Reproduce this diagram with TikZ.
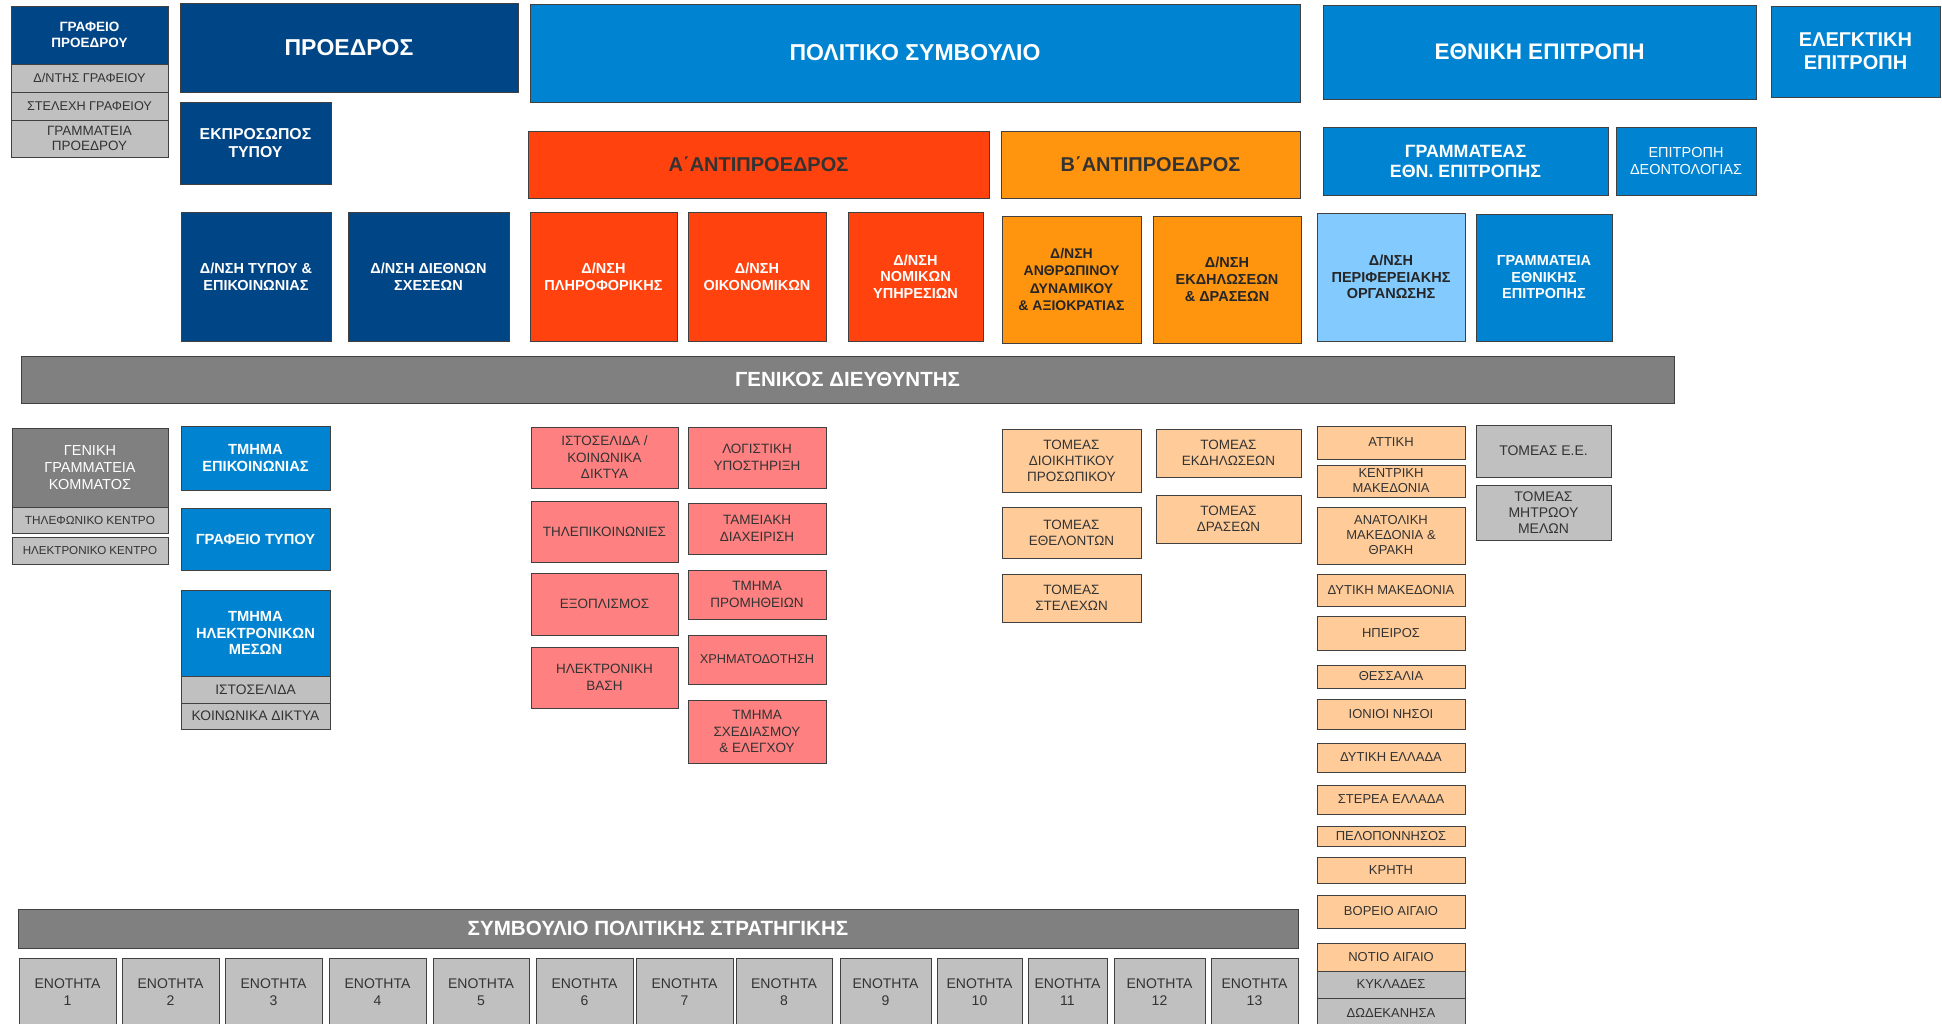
\documentclass[tikz,border=0pt]{standalone}
\usepackage{fontspec}
\setmainfont{Liberation Sans}
\definecolor{cnavy}{HTML}{004586}
\definecolor{cblue}{HTML}{0084D1}
\definecolor{clblue}{HTML}{83CAFF}
\definecolor{cred}{HTML}{FF420E}
\definecolor{corange}{HTML}{FF950E}
\definecolor{cpink}{HTML}{FF8080}
\definecolor{cpeach}{HTML}{FFCC99}
\definecolor{cgray}{HTML}{808080}
\definecolor{clgray}{HTML}{C0C0C0}
\definecolor{ctext}{HTML}{333333}
\tikzset{
  bx/.style={draw=black!75, line width=0.8pt, inner sep=0pt, align=center},
  fb/.style 2 args={font=\fontsize{#1}{#2}\selectfont\bfseries},
  fr/.style 2 args={font=\fontsize{#1}{#2}\selectfont},
  navy/.style={bx, fill=cnavy, text=white},
  blue/.style={bx, fill=cblue, text=white},
  lblue/.style={bx, fill=clblue, text=black!85},
  redb/.style={bx, fill=cred, text=white},
  orb/.style={bx, fill=corange, text=black!85},
  pink/.style={bx, fill=cpink, text=ctext, fr={13.5}{16.5}},
  peach/.style={bx, fill=cpeach, text=ctext, fr={13.5}{16}},
  region/.style={bx, fill=cpeach, text=ctext, fr={13}{15}},
  lgray/.style={bx, fill=clgray, text=ctext},
  dgray/.style={bx, fill=cgray, text=white},
}
\newcommand\bx[7]{\node[#1, minimum width={(#5-#3)*1pt}, minimum height={(#6-#4)*1pt}] (#2) at ({(#3+#5)/2},{(#4+#6)/2}) {#7};}
\begin{document}
\begin{tikzpicture}[x=1pt,y=-1pt]
\clip (0,0) rectangle (1942,1023);
\fill[white] (0,0) rectangle (1942,1023);
% top left
\bx{navy, fb={13.5}{15.5}}{grafeio}{11}{6}{168}{64}{ΓΡΑΦΕΙΟ\\ΠΡΟΕΔΡΟΥ}
\bx{lgray, fr={12.7}{15}}{dnths}{11}{64}{168}{92}{Δ/ΝΤΗΣ ΓΡΑΦΕΙΟΥ}
\bx{lgray, fr={12.7}{15}}{stelexi}{11}{92}{168}{120}{ΣΤΕΛΕΧΗ ΓΡΑΦΕΙΟΥ}
\bx{lgray, fr={13.5}{15}}{grampr}{11}{120}{168}{157}{ΓΡΑΜΜΑΤΕΙΑ\\ΠΡΟΕΔΡΟΥ}
\bx{navy, fb={23}{27}}{proedros}{180}{3}{518}{92}{ΠΡΟΕΔΡΟΣ}
\bx{navy, fb={15.8}{18}}{ekpr}{180}{102}{331}{184}{ΕΚΠΡΟΣΩΠΟΣ\\ΤΥΠΟΥ}
\bx{navy, fb={14.5}{17}}{dtypou}{181}{212}{331}{341}{Δ/ΝΣΗ ΤΥΠΟΥ \&\\ΕΠΙΚΟΙΝΩΝΙΑΣ}
\bx{navy, fb={14.5}{17}}{ddieth}{348}{212}{509}{341}{Δ/ΝΣΗ ΔΙΕΘΝΩΝ\\ΣΧΕΣΕΩΝ}
% top center
\bx{blue, fb={23}{26}}{politiko}{530}{4}{1300}{102}{ΠΟΛΙΤΙΚΟ ΣΥΜΒΟΥΛΙΟ}
\bx{redb, fb={20}{22}, text=ctext}{antia}{528}{131}{989}{198}{Α΄ΑΝΤΙΠΡΟΕΔΡΟΣ}
\bx{orb, fb={20}{22}, text=ctext}{antib}{1001}{131}{1300}{198}{Β΄ΑΝΤΙΠΡΟΕΔΡΟΣ}
\bx{redb, fb={14.5}{17}}{dplir}{530}{212}{677}{341}{Δ/ΝΣΗ\\ΠΛΗΡΟΦΟΡΙΚΗΣ}
\bx{redb, fb={14.5}{17}}{doik}{688}{212}{826}{341}{Δ/ΝΣΗ\\ΟΙΚΟΝΟΜΙΚΩΝ}
\bx{redb, fb={14.5}{16.7}}{dnom}{848}{212}{983}{341}{Δ/ΝΣΗ\\ΝΟΜΙΚΩΝ\\ΥΠΗΡΕΣΙΩΝ}
\bx{orb, fb={14}{17.5}}{danthr}{1002}{216}{1141}{343}{Δ/ΝΣΗ\\ΑΝΘΡΩΠΙΝΟΥ\\ΔΥΝΑΜΙΚΟΥ\\\& ΑΞΙΟΚΡΑΤΙΑΣ}
\bx{orb, fb={14.5}{17}}{dekd}{1153}{216}{1301}{343}{Δ/ΝΣΗ\\ΕΚΔΗΛΩΣΕΩΝ\\\& ΔΡΑΣΕΩΝ}
% top right
\bx{blue, fb={22.5}{26}}{ethniki}{1323}{5}{1756}{99}{ΕΘΝΙΚΗ ΕΠΙΤΡΟΠΗ}
\bx{blue, fb={20}{23}}{elegk}{1771}{6}{1940}{97}{ΕΛΕΓΚΤΙΚΗ\\ΕΠΙΤΡΟΠΗ}
\bx{blue, fb={17.8}{20}}{grammateas}{1323}{127}{1608}{195}{ΓΡΑΜΜΑΤΕΑΣ\\ΕΘΝ. ΕΠΙΤΡΟΠΗΣ}
\bx{blue, fr={14.5}{16.5}}{deont}{1616}{127}{1756}{195}{ΕΠΙΤΡΟΠΗ\\ΔΕΟΝΤΟΛΟΓΙΑΣ}
\bx{lblue, fb={14.5}{16.7}}{dperif}{1317}{213}{1465}{341}{Δ/ΝΣΗ\\ΠΕΡΙΦΕΡΕΙΑΚΗΣ\\ΟΡΓΑΝΩΣΗΣ}
\bx{blue, fb={14.5}{16.5}}{gramethn}{1476}{214}{1612}{341}{ΓΡΑΜΜΑΤΕΙΑ\\ΕΘΝΙΚΗΣ\\ΕΠΙΤΡΟΠΗΣ}
% general director
\bx{dgray, fb={20.5}{23}}{genikos}{21}{356}{1674}{403}{ΓΕΝΙΚΟΣ ΔΙΕΥΘΥΝΤΗΣ}
% left column
\bx{dgray, fr={14.5}{16.7}}{genram}{12}{428}{168}{507}{ΓΕΝΙΚΗ\\ΓΡΑΜΜΑΤΕΙΑ\\ΚΟΜΜΑΤΟΣ}
\bx{lgray, fr={11.8}{14}}{tilef}{12}{507}{168}{533}{ΤΗΛΕΦΩΝΙΚΟ ΚΕΝΤΡΟ}
\bx{lgray, fr={11.6}{14}}{ilkentro}{12}{537}{168}{564}{ΗΛΕΚΤΡΟΝΙΚΟ ΚΕΝΤΡΟ}
\bx{blue, fb={14.7}{16.7}}{tmepik}{181}{426}{330}{490}{ΤΜΗΜΑ\\ΕΠΙΚΟΙΝΩΝΙΑΣ}
\bx{blue, fb={14.7}{16.7}}{graftyp}{181}{508}{330}{570}{ΓΡΑΦΕΙΟ ΤΥΠΟΥ}
\bx{blue, fb={14.7}{16.7}}{tmilek}{181}{590}{330}{676}{ΤΜΗΜΑ\\ΗΛΕΚΤΡΟΝΙΚΩΝ\\ΜΕΣΩΝ}
\bx{lgray, fr={13.8}{16}}{istos}{181}{676}{330}{703}{ΙΣΤΟΣΕΛΙΔΑ}
\bx{lgray, fr={13.8}{16}}{koin}{181}{703}{330}{729}{ΚΟΙΝΩΝΙΚΑ ΔΙΚΤΥΑ}
% pink columns
\bx{pink}{pa}{531}{427}{678}{488}{ΙΣΤΟΣΕΛΙΔΑ /\\ΚΟΙΝΩΝΙΚΑ\\ΔΙΚΤΥΑ}
\bx{pink}{pb}{531}{501}{678}{562}{ΤΗΛΕΠΙΚΟΙΝΩΝΙΕΣ}
\bx{pink}{pc}{531}{573}{678}{635}{ΕΞΟΠΛΙΣΜΟΣ}
\bx{pink}{pd}{531}{647}{678}{708}{ΗΛΕΚΤΡΟΝΙΚΗ\\ΒΑΣΗ}
\bx{pink}{pe}{688}{427}{826}{488}{ΛΟΓΙΣΤΙΚΗ\\ΥΠΟΣΤΗΡΙΞΗ}
\bx{pink}{pf}{688}{503}{826}{554}{ΤΑΜΕΙΑΚΗ\\ΔΙΑΧΕΙΡΙΣΗ}
\bx{pink}{pg}{688}{570}{826}{619}{ΤΜΗΜΑ\\ΠΡΟΜΗΘΕΙΩΝ}
\bx{pink, fr={12.8}{15}}{ph}{688}{635}{826}{684}{ΧΡΗΜΑΤΟΔΟΤΗΣΗ}
\bx{pink}{pi}{688}{700}{826}{763}{ΤΜΗΜΑ\\ΣΧΕΔΙΑΣΜΟΥ\\\& ΕΛΕΓΧΟΥ}
% peach sectors
\bx{peach}{ta}{1002}{429}{1141}{492}{ΤΟΜΕΑΣ\\ΔΙΟΙΚΗΤΙΚΟΥ\\ΠΡΟΣΩΠΙΚΟΥ}
\bx{peach}{tb}{1002}{507}{1141}{558}{ΤΟΜΕΑΣ\\ΕΘΕΛΟΝΤΩΝ}
\bx{peach}{tc}{1002}{574}{1141}{622}{ΤΟΜΕΑΣ\\ΣΤΕΛΕΧΩΝ}
\bx{peach}{td}{1156}{429}{1301}{477}{ΤΟΜΕΑΣ\\ΕΚΔΗΛΩΣΕΩΝ}
\bx{peach}{te}{1156}{495}{1301}{543}{ΤΟΜΕΑΣ\\ΔΡΑΣΕΩΝ}
% regions
\bx{region}{r1}{1317}{426}{1465}{459}{ΑΤΤΙΚΗ}
\bx{region}{r2}{1317}{465}{1465}{497}{ΚΕΝΤΡΙΚΗ\\ΜΑΚΕΔΟΝΙΑ}
\bx{region}{r3}{1317}{507}{1465}{564}{ΑΝΑΤΟΛΙΚΗ\\ΜΑΚΕΔΟΝΙΑ \&\\ΘΡΑΚΗ}
\bx{region}{r4}{1317}{574}{1465}{606}{ΔΥΤΙΚΗ ΜΑΚΕΔΟΝΙΑ}
\bx{region}{r5}{1317}{616}{1465}{650}{ΗΠΕΙΡΟΣ}
\bx{region}{r6}{1317}{665}{1465}{688}{ΘΕΣΣΑΛΙΑ}
\bx{region}{r7}{1317}{699}{1465}{729}{ΙΟΝΙΟΙ ΝΗΣΟΙ}
\bx{region}{r8}{1317}{743}{1465}{772}{ΔΥΤΙΚΗ ΕΛΛΑΔΑ}
\bx{region}{r9}{1317}{785}{1465}{814}{ΣΤΕΡΕΑ ΕΛΛΑΔΑ}
\bx{region}{r10}{1317}{826}{1465}{846}{ΠΕΛΟΠΟΝΝΗΣΟΣ}
\bx{region}{r11}{1317}{857}{1465}{883}{ΚΡΗΤΗ}
\bx{region}{r12}{1317}{895}{1465}{928}{ΒΟΡΕΙΟ ΑΙΓΑΙΟ}
\bx{region}{r13}{1317}{943}{1465}{971}{ΝΟΤΙΟ ΑΙΓΑΙΟ}
\bx{lgray, fr={13}{15}}{r14}{1317}{971}{1465}{998}{ΚΥΚΛΑΔΕΣ}
\bx{lgray, fr={13}{15}}{r15}{1317}{998}{1465}{1028}{ΔΩΔΕΚΑΝΗΣΑ}
% gray sectors
\bx{lgray, fr={14}{16}}{tee}{1476}{425}{1611}{477}{ΤΟΜΕΑΣ Ε.Ε.}
\bx{lgray, fr={14}{16}}{tmit}{1476}{485}{1611}{540}{ΤΟΜΕΑΣ\\ΜΗΤΡΩΟΥ\\ΜΕΛΩΝ}
% strategy council
\bx{dgray, fb={20.6}{23}}{symv}{18}{909}{1298}{948}{ΣΥΜΒΟΥΛΙΟ ΠΟΛΙΤΙΚΗΣ ΣΤΡΑΤΗΓΙΚΗΣ}
\bx{lgray, fr={14}{16.7}}{e1}{19}{958}{116}{1026}{ΕΝΟΤΗΤΑ\\1}
\bx{lgray, fr={14}{16.7}}{e2}{122}{958}{219}{1026}{ΕΝΟΤΗΤΑ\\2}
\bx{lgray, fr={14}{16.7}}{e3}{225}{958}{322}{1026}{ΕΝΟΤΗΤΑ\\3}
\bx{lgray, fr={14}{16.7}}{e4}{329}{958}{426}{1026}{ΕΝΟΤΗΤΑ\\4}
\bx{lgray, fr={14}{16.7}}{e5}{433}{958}{529}{1026}{ΕΝΟΤΗΤΑ\\5}
\bx{lgray, fr={14}{16.7}}{e6}{536}{958}{633}{1026}{ΕΝΟΤΗΤΑ\\6}
\bx{lgray, fr={14}{16.7}}{e7}{636}{958}{733}{1026}{ΕΝΟΤΗΤΑ\\7}
\bx{lgray, fr={14}{16.7}}{e8}{736}{958}{832}{1026}{ΕΝΟΤΗΤΑ\\8}
\bx{lgray, fr={14}{16.7}}{e9}{840}{958}{931}{1026}{ΕΝΟΤΗΤΑ\\9}
\bx{lgray, fr={14}{16.7}}{e10}{937}{958}{1022}{1026}{ΕΝΟΤΗΤΑ\\10}
\bx{lgray, fr={14}{16.7}}{e11}{1028}{958}{1107}{1026}{ΕΝΟΤΗΤΑ\\11}
\bx{lgray, fr={14}{16.7}}{e12}{1114}{958}{1205}{1026}{ΕΝΟΤΗΤΑ\\12}
\bx{lgray, fr={14}{16.7}}{e13}{1211}{958}{1298}{1026}{ΕΝΟΤΗΤΑ\\13}
\end{tikzpicture}
\end{document}
